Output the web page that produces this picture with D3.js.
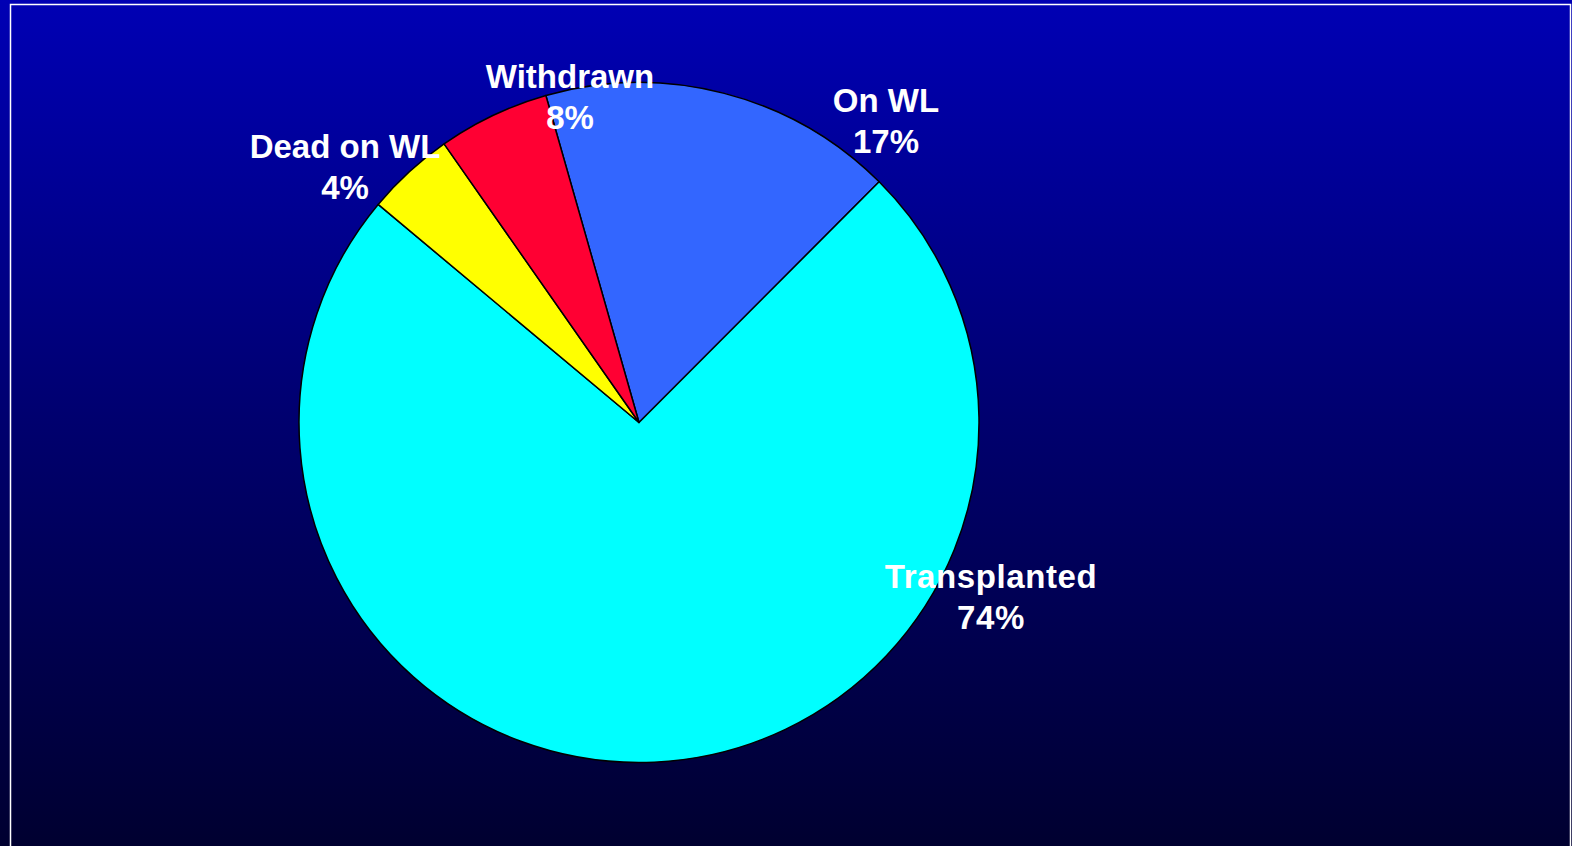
<!DOCTYPE html>
<html>
<head>
<meta charset="utf-8">
<script src="https://cdn.jsdelivr.net/npm/d3@7"></script>
<style>
  html, body { margin: 0; padding: 0; background: #000040; }
  svg { display: block; }
</style>
</head>
<body>
<svg id="chart" width="1572" height="846"></svg>
<script>
const categories = ["On WL", "Transplanted", "Dead on WL", "Withdrawn"];
const values = [16.9, 73.6, 4.2, 5.3];
const percentLabels = ["17%", "74%", "4%", "8%"];

// Styles / layout
const colors = ["#3366FF", "#00FFFF", "#FFFF00", "#FF0033"];
const labelPos = [[886, 112], [991, 588], [345, 158], [570, 88]];
const letterSpacing = [0, 0.6, 0, 0];
const W = 1572, H = 846;
const cx = 639, cy = 422.5, R = 340;
const startDeg = -15.9;

const svg = d3.select("#chart");
const defs = svg.append("defs");
const grad = defs.append("linearGradient").attr("id", "bg")
  .attr("x1", 0).attr("y1", 0).attr("x2", 0).attr("y2", 1);
grad.append("stop").attr("offset", "0%").attr("stop-color", "#0000B4");
grad.append("stop").attr("offset", "50%").attr("stop-color", "#00006E");
grad.append("stop").attr("offset", "100%").attr("stop-color", "#000030");

svg.append("rect").attr("width", W).attr("height", H).attr("fill", "url(#bg)");
svg.append("rect").attr("x", 10.5).attr("y", 4.5).attr("width", W - 12).attr("height", H + 20)
  .attr("fill", "none").attr("stroke", "#FFFFFF").attr("stroke-width", 1.5);

const start = startDeg * Math.PI / 180;
const pie = d3.pie().sort(null).value(d => d).startAngle(start).endAngle(start + 2 * Math.PI);
const arc = d3.arc().innerRadius(0).outerRadius(R);

const g = svg.append("g").attr("transform", `translate(${cx},${cy})`);
g.selectAll("path").data(pie(values)).join("path")
  .attr("d", arc)
  .attr("fill", (d, i) => colors[i])
  .attr("stroke", "#000000")
  .attr("stroke-width", 1.5)
  .attr("stroke-linejoin", "round");

const labels = svg.append("g")
  .attr("font-family", "'Liberation Sans', Arial, sans-serif")
  .attr("font-weight", "bold")
  .attr("font-size", 33)
  .attr("fill", "#FFFFFF")
  .attr("text-anchor", "middle");

categories.forEach((c, i) => {
  const t = labels.append("text").attr("x", labelPos[i][0]).attr("y", labelPos[i][1])
    .attr("letter-spacing", letterSpacing[i]);
  t.append("tspan").attr("x", labelPos[i][0]).text(c);
  t.append("tspan").attr("x", labelPos[i][0]).attr("dy", 41).text(percentLabels[i]);
});
</script>
</body>
</html>
